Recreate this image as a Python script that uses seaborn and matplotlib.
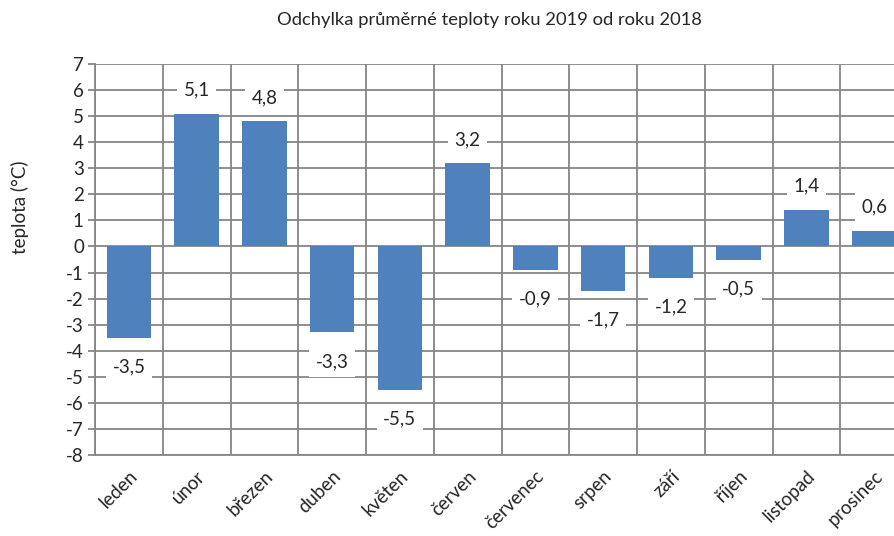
import matplotlib
matplotlib.use("Agg")
import matplotlib.pyplot as plt
import seaborn as sns
import pandas as pd
import numpy as np

months = ["leden", "únor", "březen", "duben", "květen", "červen",
          "červenec", "srpen", "září", "říjen", "listopad", "prosinec"]
values = [-3.5, 5.1, 4.8, -3.3, -5.5, 3.2, -0.9, -1.7, -1.2, -0.5, 1.4, 0.6]
labels = ["-3,5", "5,1", "4,8", "-3,3", "-5,5", "3,2", "-0,9", "-1,7", "-1,2", "-0,5", "1,4", "0,6"]
yticks = list(range(-8, 8))

sns.set_style("white")
plt.rcParams['font.family'] = ['Lato', 'DejaVu Sans']

df = pd.DataFrame({"mesic": months, "teplota": values})

fig = plt.figure(figsize=(8.94, 5.36), dpi=100)
ax = fig.add_axes([95/894, 1-455/536, 813/894, 391/536])

sns.barplot(data=df, x="mesic", y="teplota", color="#4F81BD", width=0.66,
            saturation=1, ax=ax, zorder=3, linewidth=0, edgecolor="none")

fs = 13.5
ax.set_ylim(-8, 7)
ax.set_xlim(-0.5, len(months) - 0.5)
ax.set_yticks(yticks)
ax.set_yticklabels([str(t) for t in yticks], fontsize=fs)
gc = "#868686"
ax.set_xticks(np.arange(-0.5, len(months), 1), minor=True)
ax.grid(axis="y", which="major", color=gc, linewidth=1.3, zorder=0)
ax.grid(axis="x", which="minor", color=gc, linewidth=1.3, zorder=0)
ax.grid(axis="x", which="major", visible=False)
ax.set_axisbelow(True)
for s in ax.spines.values():
    s.set_visible(False)
for side in ("left", "bottom"):
    ax.spines[side].set_visible(True)
    ax.spines[side].set_color(gc)
    ax.spines[side].set_linewidth(1.3)
ax.tick_params(axis="y", which="major", length=5, width=1.3, color=gc, direction="out", left=True, pad=3)
ax.tick_params(axis="x", which="both", length=0, pad=9)
ax.set_xticklabels(months, rotation=45, ha="right", rotation_mode="anchor", fontsize=fs)
ax.set_xlabel("")
ax.set_ylabel("")

for i, (v, lab) in enumerate(zip(values, labels)):
    off = 17 if v >= 0 else -21
    ax.annotate(lab, (i, v), xytext=(0, off), textcoords="offset points",
                ha="center", va="center", fontsize=fs, zorder=4,
                bbox=dict(boxstyle="square,pad=0.35", fc="white", ec="none"))

fig.text(489/894, 1-20/536, "Odchylka průměrné teploty roku 2019 od roku 2018",
         ha="center", va="center", fontsize=13.2)
fig.text(20/894, 1-207/536, "teplota (°C)", rotation=90, ha="center", va="center", fontsize=fs)

fig.savefig("out.png", dpi=100)
